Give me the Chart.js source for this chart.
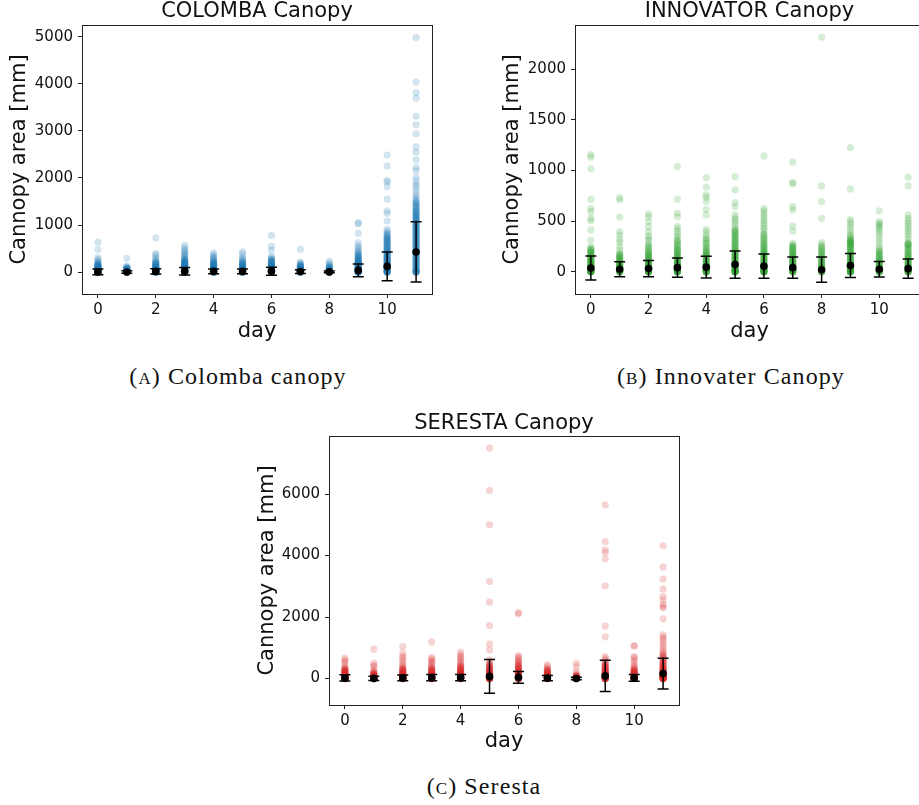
<!DOCTYPE html>
<html>
<head>
<meta charset="utf-8">
<script src="https://cdn.jsdelivr.net/npm/chart.js@4.4.0/dist/chart.umd.min.js"></script>
<style>
  body { margin: 0; width: 919px; height: 805px; overflow: hidden; background: #fff; position: relative; }
  canvas { position: absolute; }
  .cap { position: absolute; font-family: "Liberation Serif", serif; font-size: 24px; color: #111;
         letter-spacing: 1.1px; white-space: nowrap; transform: translate(-50%, -50%); }
  .sc { font-variant: small-caps; }
</style>
</head>
<body>
<canvas id="colomba" width="460" height="345" style="left:0px;top:0px"></canvas>
<canvas id="innovator" width="470" height="345" style="left:460px;top:0px"></canvas>
<canvas id="seresta" width="460" height="360" style="left:230px;top:400px"></canvas>
<div class="cap" style="left:238px;top:376px">(<span class="sc">a</span>) Colomba canopy</div>
<div class="cap" style="left:731px;top:376px">(<span class="sc">b</span>) Innovater Canopy</div>
<div class="cap" style="left:484px;top:786px">(<span class="sc">c</span>) Seresta</div>
<script>
// day index 0..11
const days = [0, 1, 2, 3, 4, 5, 6, 7, 8, 9, 10, 11];
const xTicks = [0, 2, 4, 6, 8, 10];

// COLOMBA canopy area per day
const colombaDays = [
  [636, 479, 314, 264, 238, 212, 186, 166, 148, 133, 121, 108, 99, 88, 79, 71, 62, 55, 49, 44, 38, 33, 29, 24, 19, 15, 12, 9, 7, 5, 3, 2, 0, 0, 0, 0, 0, 0,
   4, 8, 13, 17, 22, 27, 34, 41, 47, 53, 58, 66, 75, 84, 93, 104, 115, 128, 142, 157, 176],
  [293, 128, 112, 94, 81, 69, 58, 49, 41, 34, 29, 23, 18, 14, 10, 7, 5, 3, 2, 0, 0, 0, 0, 0, 0, 0,
   4, 9, 12, 16, 21, 26, 31, 38, 45, 53, 63, 74, 86],
  [729, 393, 371, 318, 282, 249, 221, 198, 179, 158, 141, 124, 112, 99, 88, 79, 68, 59, 51, 42, 35, 29, 24, 19, 14, 10, 6, 3, 0, 0, 0, 0, 0, 0,
   4, 8, 12, 17, 22, 27, 32, 38, 45, 54, 63, 73, 84, 94, 105, 118, 132, 149, 168, 188, 210],
  [571, 514, 468, 443, 409, 381, 352, 322, 301, 279, 258, 241, 219, 202, 184, 169, 153, 141, 126, 112, 99, 88, 79, 68, 59, 48, 41, 32, 25, 19, 14, 9, 5, 0, 0, 0, 0, 0, 0,
   3, 7, 12, 17, 22, 28, 36, 44, 53, 63, 73, 84, 94, 106, 119, 133, 147, 162, 176, 193, 211, 229, 248, 268],
  [407, 368, 336, 302, 278, 259, 238, 221, 199, 182, 163, 149, 136, 118, 104, 92, 79, 68, 59, 48, 39, 31, 22, 15, 10, 5, 0, 0, 0, 0, 0,
   3, 7, 12, 18, 26, 35, 44, 53, 63, 74, 86, 97, 111, 126, 142, 158, 174, 191, 210],
  [429, 388, 314, 281, 262, 238, 219, 201, 178, 162, 144, 131, 116, 101, 89, 78, 69, 58, 49, 41, 31, 22, 14, 9, 5, 0, 0, 0, 0, 0,
   3, 7, 12, 18, 26, 35, 44, 54, 63, 73, 84, 95, 108, 123, 139, 155, 172, 190],
  [779, 550, 464, 331, 302, 279, 258, 241, 218, 199, 182, 163, 151, 134, 119, 106, 91, 79, 68, 59, 48, 39, 31, 22, 14, 9, 5, 0, 0, 0, 0, 0, 0,
   3, 7, 12, 18, 26, 35, 44, 54, 63, 74, 86, 98, 112, 127, 143, 158, 175, 192, 211, 232, 254],
  [486, 214, 191, 168, 152, 133, 119, 104, 92, 79, 69, 58, 49, 41, 32, 24, 19, 14, 9, 5, 0, 0, 0, 0, 0,
   3, 7, 11, 16, 22, 28, 36, 45, 54, 63, 74, 86, 98, 112, 126, 141],
  [229, 188, 161, 131, 108, 91, 74, 61, 49, 38, 29, 21, 14, 9, 5, 0, 0, 0, 0, 0,
   3, 7, 11, 17, 24, 33, 43, 54, 66, 79, 96, 118],
  [1050, 1030, 821, 621, 558, 514, 479, 441, 412, 379, 352, 318, 292, 268, 251, 229, 211, 194, 181, 163, 149, 136, 121, 104, 92, 79, 69, 58, 49, 38, 29, 19, 11, 5, 0, 0, 0, 0, 0,
   4, 9, 15, 23, 33, 43, 54, 64, 74, 86, 97, 112, 128, 142, 158, 172, 188, 203, 219, 238, 258, 281, 305, 332, 365, 398],
  [2486, 2257, 1943, 1920, 1814, 1550, 1300, 1250, 1086, 907, 868, 831, 792, 748, 721, 688, 662, 629, 601, 568, 542, 509, 481, 456, 428, 404, 381, 353, 331, 306, 279, 261, 238, 219, 202, 178, 161, 139, 121, 98, 81, 62, 41, 22, 11, 0, 0, 0, 0, 0,
   5, 16, 31, 52, 71, 89, 109, 131, 150, 171, 190, 211, 229, 249, 271, 292, 318, 342, 367, 392, 416, 441, 468, 495, 521, 555, 582, 615, 645, 676, 708, 735, 762, 809],
  [4986, 4038, 3812, 3692, 3310, 3133, 2942, 2659, 2546, 2383, 2221, 2150, 2009, 1931, 1862, 1817, 1748, 1676, 1622, 1571, 1535, 1502, 1468, 1441, 1409, 1382, 1348, 1321, 1288, 1262, 1229, 1201, 1168, 1142, 1109, 1081, 1049, 1022, 988, 961, 929, 902, 871, 838, 812, 779, 751, 718, 692, 659, 631, 602, 569, 541, 512, 479, 452, 418, 391, 362, 329, 302, 268, 241, 212, 179, 152, 118, 91, 62, 31, 15, 0, 0, 0, 0, 0,
   8, 22, 45, 76, 104, 135, 166, 196, 226, 255, 284, 315, 346, 376, 404, 436, 466, 495, 526, 556, 586, 616, 645, 676, 705, 735, 766, 795, 826, 856, 886, 916, 945, 975, 1005, 1036, 1066, 1095, 1124, 1155, 1186, 1215, 1246, 1276, 1305, 1366, 1424, 1486]
];
const colombaMean = [4, 3, 15, 20, 15, 15, 20, 12, 5, 36, 121, 428];
const colombaStd = [60, 25, 55, 80, 50, 50, 85, 40, 20, 136, 307, 640];
const colombaTicks = [0, 1000, 2000, 3000, 4000, 5000];

// INNOVATOR canopy area per day
const innovatorDays = [
  [1153, 1130, 1015, 715, 626, 593, 527, 504, 412, 313, 247, 231, 214, 199, 186, 171, 154, 141, 128, 116, 104, 95, 86, 74, 66, 55, 46, 38, 29, 22, 15, 10, 5, 0, 0, 0, 0, 0, 0, 0,
   2, 7, 12, 18, 25, 33, 41, 50, 60, 70, 80, 90, 100, 110, 121, 134, 147, 160, 176, 193, 208, 222],
  [731, 708, 540, 395, 362, 320, 291, 247, 214, 181, 166, 149, 136, 121, 104, 92, 81, 69, 61, 49, 41, 32, 24, 18, 12, 6, 0, 0, 0, 0, 0, 0,
   3, 9, 15, 21, 28, 36, 44, 54, 65, 75, 86, 97, 110, 126, 142, 158, 174],
  [570, 544, 494, 445, 395, 353, 331, 313, 279, 247, 226, 198, 181, 164, 151, 134, 121, 104, 92, 81, 69, 61, 49, 41, 31, 22, 15, 8, 0, 0, 0, 0, 0, 0,
   3, 9, 15, 21, 28, 36, 45, 55, 65, 75, 86, 98, 111, 127, 142, 158, 172, 189, 205, 238, 262],
  [1038, 715, 577, 544, 445, 421, 395, 369, 346, 321, 297, 271, 247, 226, 198, 181, 164, 151, 134, 121, 104, 92, 81, 69, 61, 49, 41, 31, 22, 15, 8, 0, 0, 0, 0, 0, 0, 0,
   3, 9, 15, 21, 28, 36, 45, 55, 65, 75, 86, 98, 111, 127, 142, 158, 172, 189, 206, 219, 234, 258, 283, 308],
  [929, 834, 758, 735, 692, 616, 560, 418, 391, 362, 334, 313, 279, 247, 226, 204, 186, 169, 154, 141, 126, 109, 96, 82, 71, 58, 46, 35, 25, 15, 8, 0, 0, 0, 0, 0, 0, 0,
   3, 11, 19, 29, 39, 51, 63, 75, 88, 101, 114, 131, 148, 162, 177, 193, 212, 236, 262, 289, 321],
  [939, 807, 682, 643, 560, 531, 511, 486, 461, 434, 412, 395, 379, 351, 331, 313, 291, 269, 251, 229, 212, 196, 181, 164, 151, 134, 121, 104, 92, 81, 68, 55, 46, 35, 25, 15, 8, 0, 0, 0, 0, 0, 0, 0, 0,
   3, 11, 19, 29, 39, 51, 63, 75, 88, 101, 114, 128, 143, 157, 172, 188, 204, 220, 238, 256, 276, 297, 318, 341, 362, 385, 406],
  [1143, 626, 601, 577, 552, 527, 501, 478, 452, 428, 404, 379, 356, 329, 304, 279, 261, 241, 219, 201, 186, 169, 154, 141, 126, 109, 96, 82, 71, 58, 46, 35, 25, 15, 8, 0, 0, 0, 0, 0, 0, 0,
   3, 11, 19, 29, 39, 51, 63, 75, 88, 101, 114, 128, 143, 157, 172, 188, 205, 222, 241, 262, 286, 311, 338, 366],
  [1081, 880, 869, 643, 610, 451, 402, 280, 264, 247, 231, 212, 196, 181, 164, 151, 134, 121, 104, 92, 81, 68, 56, 45, 35, 25, 15, 8, 0, 0, 0, 0, 0, 0,
   3, 11, 19, 29, 39, 51, 63, 75, 88, 101, 114, 128, 143, 157, 172, 188, 205, 222, 240, 256],
  [2316, 847, 692, 527, 287, 264, 247, 226, 198, 181, 161, 139, 121, 101, 86, 69, 55, 42, 31, 19, 10, 0, 0, 0, 0, 0,
   3, 12, 22, 35, 48, 62, 77, 93, 110, 128, 148, 170, 192, 214, 238],
  [1226, 817, 517, 494, 469, 441, 411, 381, 362, 346, 326, 313, 294, 279, 262, 246, 228, 212, 196, 181, 164, 151, 134, 121, 104, 92, 81, 68, 56, 45, 35, 25, 15, 8, 0, 0, 0, 0, 0, 0, 0,
   3, 11, 19, 29, 39, 51, 63, 75, 88, 101, 114, 128, 143, 157, 172, 188, 204, 220, 238, 256, 276, 297, 318, 305, 288, 271],
  [600, 494, 479, 461, 445, 428, 404, 379, 351, 313, 286, 247, 226, 201, 181, 161, 139, 121, 101, 86, 69, 55, 42, 31, 19, 10, 0, 0, 0, 0, 0, 0,
   3, 11, 19, 29, 39, 51, 63, 75, 88, 101, 114, 131, 148, 166, 186, 208],
  [932, 847, 560, 527, 501, 478, 452, 428, 404, 379, 351, 321, 281, 269, 251, 229, 211, 191, 169, 151, 131, 112, 95, 81, 66, 52, 41, 31, 19, 10, 0, 0, 0, 0, 0, 0,
   3, 11, 19, 29, 39, 51, 63, 75, 88, 101, 114, 128, 143, 159, 176, 196, 218, 241, 263, 276, 284]
];
const innovatorMean = [36, 25, 31, 40, 45, 70, 55, 40, 20, 62, 25, 30];
const innovatorStd = [118, 74, 80, 95, 108, 135, 120, 105, 124, 118, 77, 95];
const innovatorTicks = [0, 500, 1000, 1500, 2000];

// SERESTA canopy area per day
const serestaDays = [
  [662, 601, 553, 481, 390, 341, 302, 268, 241, 214, 191, 169, 151, 131, 114, 101, 86, 71, 58, 46, 35, 25, 15, 8, 0, 0, 0, 0, 0, 0, 0,
   4, 11, 19, 28, 39, 51, 64, 79, 94, 112, 133, 156, 181, 206, 234, 262, 292, 328],
  [955, 499, 431, 390, 282, 241, 201, 169, 146, 121, 101, 82, 65, 50, 38, 26, 15, 8, 0, 0, 0, 0, 0, 0,
   4, 11, 19, 28, 39, 51, 64, 79, 94, 112, 133, 156, 181],
  [1042, 825, 721, 662, 581, 499, 441, 390, 351, 309, 276, 244, 214, 191, 166, 146, 124, 106, 88, 72, 58, 45, 33, 22, 12, 5, 0, 0, 0, 0, 0, 0,
   4, 11, 19, 28, 39, 51, 64, 79, 94, 112, 133, 156, 181, 206, 234, 262, 292, 328],
  [1193, 684, 641, 586, 539, 499, 441, 390, 351, 309, 276, 244, 214, 191, 166, 146, 124, 106, 88, 72, 58, 45, 33, 22, 12, 5, 0, 0, 0, 0, 0, 0,
   4, 11, 19, 28, 39, 51, 64, 79, 94, 112, 133, 156, 181, 206, 234, 262, 292, 328],
  [857, 781, 716, 659, 608, 541, 501, 445, 401, 361, 321, 286, 254, 226, 199, 176, 154, 136, 114, 98, 82, 66, 52, 40, 28, 18, 8, 0, 0, 0, 0, 0, 0,
   4, 11, 19, 28, 39, 51, 64, 79, 94, 112, 133, 156, 181, 206, 234, 262, 292, 328, 366, 404],
  [7497, 6119, 5002, 3157, 2485, 1725, 1128, 933, 608, 541, 481, 431, 386, 344, 309, 276, 244, 214, 191, 166, 146, 124, 106, 88, 72, 58, 45, 33, 22, 12, 5, 0, 0, 0, 0, 0, 0,
   4, 11, 19, 28, 39, 51, 64, 79, 94, 112, 133, 156, 181, 206, 234, 262, 292, 328, 366, 404, 449],
  [2148, 2105, 749, 701, 662, 601, 553, 491, 431, 390, 341, 302, 266, 236, 204, 181, 154, 136, 114, 98, 82, 66, 52, 40, 28, 18, 8, 0, 0, 0, 0, 0, 0,
   4, 11, 19, 28, 39, 51, 64, 79, 94, 112, 133, 156, 181, 206, 234, 262, 292, 328, 366, 404, 449, 512],
  [445, 401, 336, 291, 251, 214, 186, 161, 138, 118, 101, 84, 70, 56, 44, 33, 22, 12, 5, 0, 0, 0, 0, 0,
   4, 11, 19, 28, 39, 51, 64, 79, 94, 112, 133, 156, 181, 206, 234, 262, 292],
  [499, 390, 228, 151, 109, 81, 61, 45, 32, 20, 10, 0, 0, 0, 0, 0,
   4, 11, 19, 28, 39, 51, 64, 79, 96],
  [5652, 4459, 4188, 4101, 3895, 3016, 1703, 1356, 716, 659, 601, 541, 481, 431, 386, 344, 306, 271, 241, 211, 186, 161, 138, 118, 101, 84, 70, 56, 44, 33, 22, 12, 5, 0, 0, 0, 0, 0, 0,
   4, 11, 19, 28, 39, 51, 64, 79, 94, 112, 133, 156, 181, 206, 234, 262, 292, 328, 366, 404, 449, 512],
  [1074, 1051, 716, 681, 608, 541, 445, 401, 351, 309, 276, 244, 214, 191, 166, 146, 124, 106, 88, 72, 58, 45, 33, 22, 12, 5, 0, 0, 0, 0, 0,
   4, 11, 19, 28, 39, 51, 64, 79, 94, 112, 133, 156, 181, 206, 234, 262, 292],
  [4318, 3624, 3233, 2908, 2669, 2561, 2419, 2343, 2301, 1942, 1421, 1351, 1291, 1204, 1121, 1042, 951, 879, 825, 771, 719, 671, 619, 576, 531, 489, 451, 409, 376, 339, 306, 276, 244, 214, 191, 166, 146, 124, 106, 88, 72, 58, 45, 33, 22, 12, 5, 0, 0, 0, 0, 0, 0,
   4, 11, 19, 28, 39, 51, 64, 79, 94, 112, 133, 156, 181, 206, 234, 262, 292, 328, 366, 404, 449, 512, 588, 664, 742]
];
const serestaMean = [22, 5, 20, 30, 30, 70, 40, 15, 0, 87, 22, 163];
const serestaStd = [98, 70, 95, 105, 105, 548, 190, 87, 40, 510, 108, 499];
const serestaTicks = [0, 2000, 4000, 6000];

Chart.defaults.font.family = '"DejaVu Sans", sans-serif';
Chart.defaults.color = '#111';

// mean +- std whiskers, drawn just before the black mean dots
const errorBars = {
  id: 'errorBars',
  beforeDatasetDraw(chart, args) {
    if (args.index !== 1) return;
    const { ctx, scales: { x, y } } = chart;
    ctx.save();
    ctx.strokeStyle = '#000';
    ctx.lineWidth = 1.5;
    chart.data.datasets[1].data.forEach(p => {
      const px = x.getPixelForValue(p.x);
      const hi = y.getPixelForValue(p.y + p.std);
      const lo = y.getPixelForValue(p.y - p.std);
      ctx.beginPath();
      ctx.moveTo(px, hi); ctx.lineTo(px, lo);
      ctx.moveTo(px - 5.5, hi); ctx.lineTo(px + 5.5, hi);
      ctx.moveTo(px - 5.5, lo); ctx.lineTo(px + 5.5, lo);
      ctx.stroke();
    });
    ctx.restore();
  }
};

// full box around the axes like matplotlib spines
const frame = {
  id: 'frame',
  afterDatasetsDraw(chart) {
    const { ctx, chartArea: a } = chart;
    ctx.save();
    ctx.strokeStyle = '#222';
    ctx.lineWidth = 1;
    ctx.strokeRect(Math.round(a.left) + 0.5, Math.round(a.top) + 0.5,
                   Math.round(a.right - a.left), Math.round(a.bottom - a.top));
    ctx.restore();
  }
};

function makeChart(id, title, perDay, mean, std, rgb, yMin, yMax, yTicks, lay) {
  const points = [];
  perDay.forEach((vals, i) => vals.forEach(v => points.push({ x: days[i], y: v })));
  const means = days.map((d, i) => ({ x: d, y: mean[i], std: std[i] }));

  return new Chart(document.getElementById(id), {
    type: 'scatter',
    data: {
      datasets: [
        { data: points, order: 2, pointRadius: 3.6, pointBorderWidth: 0,
          backgroundColor: `rgba(${rgb},0.2)`, borderColor: 'rgba(0,0,0,0)' },
        { data: means, order: 1, pointRadius: 3.8, pointBorderWidth: 0,
          backgroundColor: '#000', borderColor: '#000' }
      ]
    },
    options: {
      responsive: false,
      animation: false,
      events: [],
      layout: { padding: { left: 0, top: 0, right: lay.padRight, bottom: 0 } },
      plugins: {
        legend: { display: false },
        tooltip: { enabled: false },
        title: {
          display: true, text: title, fullSize: false, color: '#111',
          font: { size: 21, weight: 'normal', lineHeight: 1.0 },
          padding: lay.titlePad
        }
      },
      scales: {
        x: {
          type: 'linear', min: -0.55, max: 11.55,
          afterBuildTicks: s => { s.ticks = xTicks.map(v => ({ value: v })); },
          afterFit: s => { s.height = lay.xHeight; },
          grid: { drawOnChartArea: false, tickLength: 4, color: '#222' },
          border: { display: false },
          ticks: { font: { size: 15 }, padding: 3, color: '#111' },
          title: { display: true, text: 'day', font: { size: 21 }, color: '#111',
                   padding: { top: 0, bottom: lay.xTitlePad } }
        },
        y: {
          type: 'linear', min: yMin, max: yMax,
          afterBuildTicks: s => { s.ticks = yTicks.map(v => ({ value: v })); },
          afterFit: s => { s.width = lay.yWidth; },
          grid: { drawOnChartArea: false, tickLength: 4, color: '#222' },
          border: { display: false },
          ticks: { font: { size: 15 }, padding: 5, color: '#111', callback: v => String(v) },
          title: { display: true, text: 'Cannopy area [mm]', font: { size: 21 }, color: '#111',
                   padding: { top: lay.yTitlePad, bottom: 0 } }
        }
      }
    },
    plugins: [errorBars, frame]
  });
}

makeChart('colomba', 'COLOMBA Canopy', colombaDays, colombaMean, colombaStd,
  '31,119,180', -465, 5250, colombaTicks,
  { padRight: 28, yWidth: 82, xHeight: 51, titlePad: { top: 1.5, bottom: 2.5 }, yTitlePad: 6.5, xTitlePad: 0.7 });

makeChart('innovator', 'INNOVATOR Canopy', innovatorDays, innovatorMean, innovatorStd,
  '44,160,44', -220, 2435, innovatorTicks,
  { padRight: 6, yWidth: 115, xHeight: 51, titlePad: { top: 1.5, bottom: 2.5 }, yTitlePad: 40.2, xTitlePad: 0.7 });

makeChart('seresta', 'SERESTA Canopy', serestaDays, serestaMean, serestaStd,
  '214,39,40', -860, 7890, serestaTicks,
  { padRight: 11, yWidth: 99, xHeight: 55, titlePad: { top: 13, bottom: 2 }, yTitlePad: 24.5, xTitlePad: 5.7 });
</script>
</body>
</html>
